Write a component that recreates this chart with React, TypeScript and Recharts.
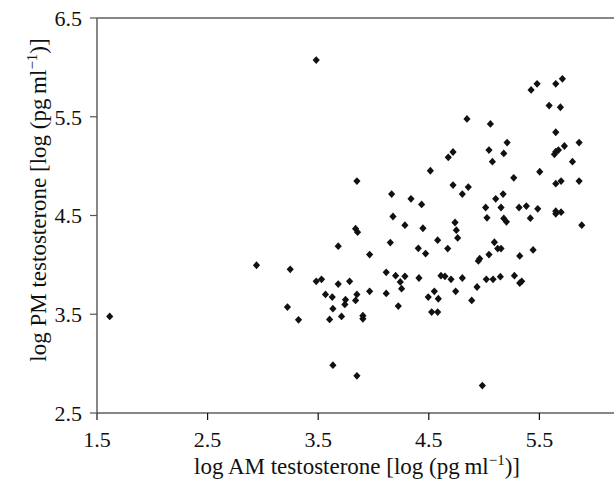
import React from 'react';
import {
  ScatterChart, Scatter, XAxis, YAxis, ReferenceLine, Label
} from 'recharts';

// log AM testosterone (x) and log PM testosterone (y)
const amValues = [
  1.615, 2.942, 3.247, 3.222, 3.322, 3.482, 3.482, 3.530, 3.566, 3.627,
  3.681, 3.681, 3.633, 3.603, 3.711, 3.747, 3.741, 3.784, 3.633, 3.850,
  3.850, 3.838, 3.856, 3.838, 3.850, 3.904, 3.904, 3.965, 3.965, 4.115,
  4.115, 4.152, 4.164, 4.176, 4.200, 4.224, 4.242, 4.254, 4.284, 4.284,
  4.339, 4.405, 4.411, 4.435, 4.447, 4.471, 4.514, 4.495, 4.550, 4.586,
  4.526, 4.580, 4.580, 4.610, 4.646, 4.671, 4.676, 4.719, 4.719, 4.701,
  4.737, 4.749, 4.761, 4.743, 4.803, 4.803, 4.857, 4.845, 4.888, 4.936,
  4.948, 4.960, 4.984, 5.014, 5.026, 5.020, 5.044, 5.044, 5.057, 5.075,
  5.081, 5.093, 5.105, 5.123, 5.153, 5.153, 5.147, 5.172, 5.178, 5.178,
  5.202, 5.208, 5.268, 5.274, 5.316, 5.322, 5.322, 5.340, 5.382, 5.418,
  5.425, 5.443, 5.479, 5.485, 5.503, 5.588, 5.648, 5.648, 5.636, 5.648,
  5.672, 5.648, 5.696, 5.648, 5.648, 5.696, 5.690, 5.708, 5.726, 5.799,
  5.859, 5.859, 5.883,
];

const pmValues = [
  3.478, 3.996, 3.955, 3.573, 3.444, 6.074, 3.833, 3.854, 3.701, 3.674,
  3.806, 4.189, 3.556, 3.448, 3.478, 3.647, 3.600, 3.833, 2.984, 2.876,
  4.849, 4.366, 4.331, 3.640, 3.701, 3.485, 3.454, 4.104, 3.732, 3.925,
  3.711, 4.226, 4.717, 4.490, 3.891, 3.583, 3.827, 3.759, 3.884, 4.402,
  4.669, 4.168, 3.867, 4.612, 4.371, 4.114, 4.953, 3.674, 3.732, 3.657,
  3.522, 3.522, 4.250, 3.891, 3.884, 4.165, 5.089, 5.143, 4.808, 3.854,
  4.429, 4.351, 4.273, 3.732, 4.717, 3.867, 4.788, 5.478, 3.640, 3.776,
  4.040, 4.063, 2.778, 4.581, 4.476, 3.854, 4.104, 5.163, 5.427, 5.045,
  3.854, 4.229, 4.669, 4.165, 4.165, 4.581, 3.881, 4.717, 5.129, 4.470,
  4.436, 5.238, 4.882, 3.891, 4.581, 4.091, 3.816, 3.833, 4.595, 4.473,
  5.772, 4.151, 5.833, 4.568, 4.943, 5.613, 5.833, 5.343, 5.119, 5.146,
  5.163, 4.822, 4.849, 4.544, 4.517, 4.534, 5.596, 5.884, 5.204, 5.045,
  5.238, 4.849, 4.402,
];

const xTicks = [1.5, 2.5, 3.5, 4.5, 5.5];
const yTicks = [2.5, 3.5, 4.5, 5.5, 6.5];

const data = amValues.map((am, i) => ({ am, pm: pmValues[i] }));

const FONT = '"Liberation Serif", "Times New Roman", serif';

const Diamond = (props: any) => {
  const { cx, cy } = props;
  if (cx == null || cy == null) return null;
  return (
    <path
      d={`M${cx},${cy - 3.9} L${cx + 3.6},${cy} L${cx},${cy + 3.9} L${cx - 3.6},${cy} Z`}
      fill="#111"
    />
  );
};

const XTitle = () => (
  <text x={357} y={474} textAnchor="middle" fontFamily={FONT} fontSize={23} fill="#111">
    log AM testosterone [log (pg{'\u2009'}ml
    <tspan fontSize={15} dy={-9}>−1</tspan>
    <tspan dy={9}>)]</tspan>
  </text>
);

const YTitle = () => (
  <text
    x={46}
    y={200}
    transform="rotate(-90, 46, 200)"
    textAnchor="middle"
    fontFamily={FONT}
    fontSize={23}
    fill="#111"
  >
    log PM testosterone [log (pg{'\u2009'}ml
    <tspan fontSize={15} dy={-9}>−1</tspan>
    <tspan dy={9}>)]</tspan>
  </text>
);

export default function App() {
  return (
    <div style={{ position: 'fixed', left: 0, top: 0, width: 614, height: 479, overflow: 'hidden', background: '#fff' }}>
      <ScatterChart width={660} height={479} margin={{ top: 18, right: 10, bottom: 0, left: 0 }}>
        <XAxis
          type="number"
          dataKey="am"
          domain={[1.5, 6.5]}
          ticks={xTicks}
          height={66}
          tickSize={7}
          tickMargin={11}
          axisLine={{ stroke: '#111', strokeWidth: 1.2 }}
          tickLine={{ stroke: '#111', strokeWidth: 1.2 }}
          tick={{ fill: '#111', fontSize: 22, fontFamily: FONT }}
        >
          <Label content={<XTitle />} />
        </XAxis>
        <YAxis
          type="number"
          dataKey="pm"
          domain={[2.5, 6.5]}
          ticks={yTicks}
          width={97}
          tickSize={7}
          tickMargin={8}
          axisLine={{ stroke: '#555', strokeWidth: 1.4 }}
          tickLine={{ stroke: '#555', strokeWidth: 1.2 }}
          tick={{ fill: '#111', fontSize: 22, fontFamily: FONT }}
        >
          <Label content={<YTitle />} />
        </YAxis>
        <ReferenceLine y={6.5} stroke="#111" strokeWidth={1.2} />
        <Scatter data={data} shape={<Diamond />} isAnimationActive={false} />
      </ScatterChart>
    </div>
  );
}
